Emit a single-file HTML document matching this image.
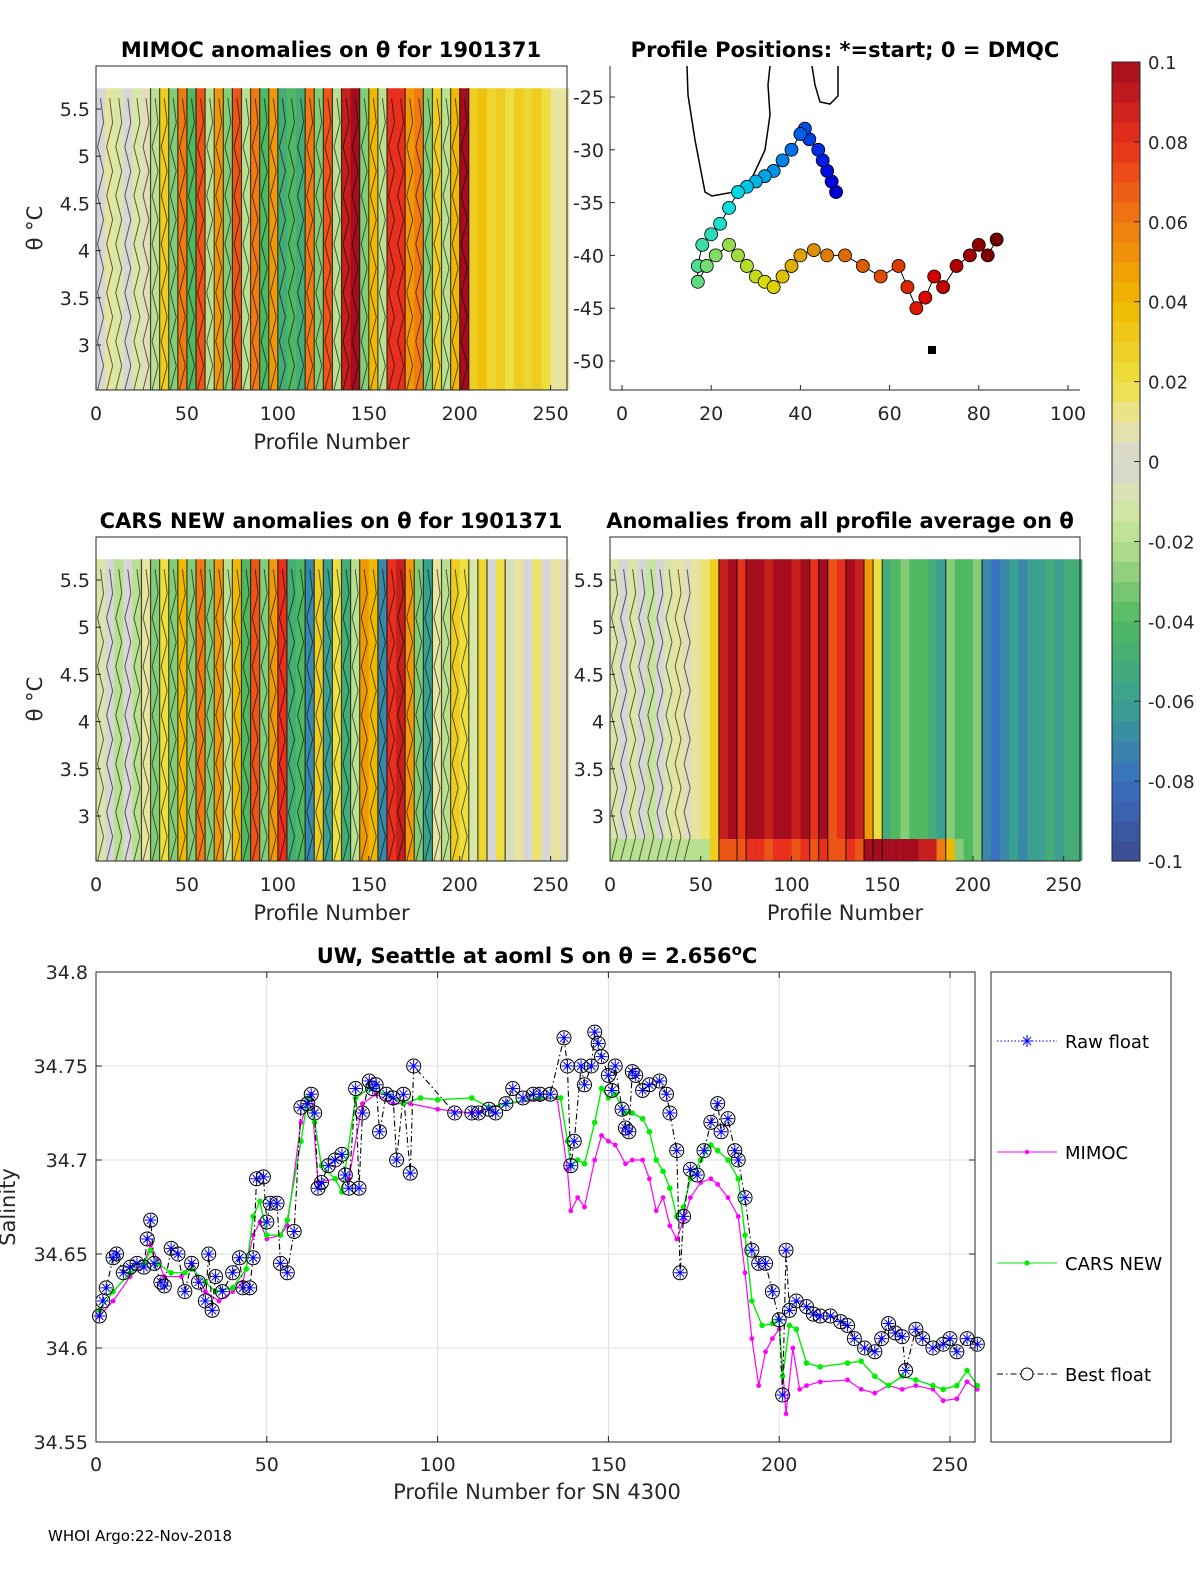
<!DOCTYPE html>
<html><head><meta charset="utf-8"><style>
html,body{margin:0;padding:0;background:#fff;}
svg{display:block;font-family:"DejaVu Sans","Liberation Sans",sans-serif;}
</style></head><body>
<svg id="fig" width="1200" height="1575" viewBox="0 0 1200 1575" xmlns="http://www.w3.org/2000/svg">
<rect width="1200" height="1575" fill="#fff"/>
<g id="layer"></g>
<text x="48" y="1541" font-size="15">WHOI Argo:22-Nov-2018</text>
</svg>
<script>
// ---------- data ----------
const mimocCols = [0,0.01,-0.01,0,-0.01,0.005,-0.02,0.03,-0.03,0.06,-0.04,0.07,-0.02,0.05,-0.03,0.07,-0.02,0.06,-0.04,0.05,-0.05,-0.04,-0.05,0.06,-0.03,0.07,-0.02,0.09,0.1,-0.03,0.04,-0.02,0.08,0.08,0.05,0.06,-0.03,0.03,-0.02,0.04,0.1,0.03,0.035,0.025,0.03,0.02,0.03,0.025,0.03,0.02,0.01,0.01];
const carsCols = [-0.01,0,-0.02,0,-0.02,0.01,-0.03,0.02,-0.03,0.04,-0.03,0.06,-0.03,0.05,-0.02,0.04,-0.04,0.07,-0.03,0.05,0.08,-0.05,-0.04,-0.07,0.03,-0.06,0.02,-0.05,-0.02,0.05,0.04,-0.07,0.08,0.09,0.05,-0.03,-0.06,0.01,-0.02,0.03,0.02,-0.01,0.025,0,0.02,-0.005,0.01,0,0.015,0,0.01,0.005];
const avgCols = [-0.01,0,-0.01,0,-0.015,0,-0.01,0.01,0.005,0.01,0.015,0.03,0.09,0.1,0.08,0.1,0.1,0.09,0.1,0.1,0.09,0.1,0.08,0.1,0.07,0.08,0.1,0.09,0.05,0.02,-0.05,-0.04,-0.03,-0.04,-0.04,-0.05,-0.06,-0.03,-0.04,-0.04,-0.03,-0.07,-0.08,-0.07,-0.06,-0.07,-0.06,-0.06,-0.05,-0.06,-0.05,-0.05];
const avgBottom = [-0.02,-0.02,-0.02,-0.02,-0.02,-0.02,-0.02,-0.02,-0.02,-0.02,-0.02,0.03,0.07,0.07,0.07,0.08,0.08,0.07,0.08,0.08,0.07,0.08,0.07,0.08,0.07,0.07,0.08,0.07,0.1,0.1,0.1,0.1,0.1,0.1,0.09,0.09,0.06,0.04,-0.03,-0.04,-0.03,-0.07,-0.08,-0.07,-0.06,-0.07,-0.06,-0.06,-0.05,-0.06,-0.05,-0.05];
const colWidth = 5;
const trackLon = [48,47,46,45,44,42,41,40,38,36,34,32,30,28,26,24,22,20,18,17,17,19,21,24,26,28,30,32,34,36,38,40,43,46,50,54,58,62,64,66,68,70,72,75,78,80,82,84];
const trackLat = [-34,-33,-32,-31,-30,-29,-28,-28.5,-30,-31,-32,-32.5,-33,-33.5,-34,-35.5,-37,-38,-39,-41,-42.5,-41,-40,-39,-40,-41,-42,-42.5,-43,-42,-41,-40,-39.5,-40,-40,-41,-42,-41,-43,-45,-44,-42,-43,-41,-40,-39,-40,-38.5];
const floatP = [1,2,3,5,6,8,10,12,14,15,16,17,19,20,22,24,26,28,30,32,33,34,35,37,40,42,43,45,46,47,49,50,51,53,54,56,58,60,62,63,64,65,66,68,70,72,73,74,76,77,78,80,81,82,83,85,87,88,90,92,93,105,110,112,115,117,120,122,125,128,130,133,137,138,139,140,142,143,145,146,147,148,150,151,152,154,155,156,157,158,160,162,165,167,168,170,171,172,174,176,178,180,182,183,185,187,188,190,192,194,196,198,200,201,202,203,205,208,210,212,215,218,220,222,225,228,230,232,234,236,237,240,242,245,248,250,252,255,258];
const floatS = [34.617,34.625,34.632,34.648,34.650,34.640,34.643,34.645,34.643,34.658,34.668,34.645,34.635,34.633,34.653,34.650,34.630,34.645,34.635,34.625,34.650,34.620,34.638,34.630,34.640,34.648,34.632,34.632,34.648,34.690,34.691,34.667,34.677,34.677,34.645,34.640,34.662,34.728,34.730,34.735,34.725,34.685,34.688,34.697,34.700,34.703,34.692,34.685,34.738,34.685,34.725,34.742,34.738,34.740,34.715,34.735,34.733,34.700,34.735,34.693,34.750,34.725,34.725,34.725,34.727,34.725,34.730,34.738,34.733,34.735,34.735,34.735,34.765,34.750,34.697,34.710,34.750,34.740,34.750,34.768,34.762,34.755,34.745,34.737,34.750,34.727,34.717,34.715,34.747,34.745,34.737,34.740,34.742,34.735,34.725,34.705,34.640,34.670,34.695,34.692,34.705,34.720,34.730,34.715,34.722,34.705,34.700,34.680,34.652,34.645,34.645,34.630,34.615,34.575,34.652,34.620,34.625,34.622,34.618,34.617,34.617,34.614,34.612,34.605,34.600,34.598,34.605,34.613,34.608,34.606,34.588,34.610,34.605,34.600,34.602,34.605,34.598,34.605,34.602];
const mimocP = [1,5,10,14,16,18,20,25,28,32,36,40,43,46,48,50,54,56,60,63,65,70,74,78,82,87,92,100,110,120,130,135,138,139,141,143,146,148,150,152,155,157,160,162,164,166,168,170,172,174,177,180,182,185,188,190,192,194,196,198,200,201,202,204,206,208,212,220,224,228,232,236,240,245,248,252,255,258];
const mimocS = [34.617,34.625,34.638,34.645,34.655,34.647,34.638,34.638,34.645,34.630,34.625,34.630,34.635,34.660,34.667,34.658,34.660,34.665,34.720,34.735,34.688,34.690,34.690,34.730,34.735,34.730,34.730,34.727,34.725,34.730,34.732,34.733,34.695,34.673,34.680,34.675,34.700,34.713,34.710,34.708,34.698,34.700,34.700,34.690,34.673,34.680,34.665,34.658,34.668,34.680,34.688,34.690,34.687,34.680,34.670,34.640,34.605,34.580,34.598,34.605,34.610,34.590,34.565,34.600,34.578,34.580,34.582,34.583,34.578,34.576,34.580,34.578,34.580,34.578,34.572,34.573,34.582,34.578];
const carsP = [1,5,10,14,16,18,22,26,28,32,35,40,44,46,48,50,54,56,60,62,64,66,70,72,76,80,85,90,95,100,110,115,120,130,136,138,139,141,143,146,148,150,152,155,157,160,162,164,166,168,170,172,174,177,180,182,185,188,190,192,195,198,200,201,203,205,208,212,220,224,228,232,236,240,245,248,252,255,258];
const carsS = [34.620,34.630,34.640,34.645,34.652,34.645,34.640,34.640,34.642,34.635,34.630,34.632,34.642,34.670,34.678,34.660,34.660,34.668,34.710,34.733,34.720,34.697,34.690,34.683,34.733,34.738,34.735,34.730,34.733,34.732,34.733,34.728,34.730,34.733,34.733,34.710,34.697,34.700,34.698,34.720,34.738,34.733,34.735,34.725,34.725,34.722,34.715,34.700,34.694,34.685,34.670,34.675,34.690,34.700,34.708,34.705,34.700,34.690,34.660,34.625,34.612,34.613,34.615,34.585,34.612,34.610,34.592,34.590,34.592,34.593,34.585,34.580,34.585,34.583,34.580,34.578,34.580,34.588,34.580];
const cbTicks = [0.1,0.08,0.06,0.04,0.02,0,-0.02,-0.04,-0.06,-0.08,-0.1];
const cbLabels = ["0.1","0.08","0.06","0.04","0.02","0","-0.02","-0.04","-0.06","-0.08","-0.1"];
const thetaTicks = [5.5,5,4.5,4,3.5,3];
const thetaLabels = ["5.5","5","4.5","4","3.5","3"];
const profTicks = [0,50,100,150,200,250];
const latTicks = [-25,-30,-35,-40,-45,-50];
const lonTicks = [0,20,40,60,80,100];
const sTicks = [34.55,34.6,34.65,34.7,34.75,34.8];
const sLabels = ["34.55","34.6","34.65","34.7","34.75","34.8"];

// ---------- helpers ----------
const NS="http://www.w3.org/2000/svg";
const layer=document.getElementById('layer');
function mk(tag,attrs,parent,txt){const e=document.createElementNS(NS,tag);for(const k in attrs)e.setAttribute(k,attrs[k]);if(txt!==undefined)e.textContent=txt;(parent||layer).appendChild(e);return e;}
const stops=[[-0.1,[58,74,144]],[-0.08,[58,112,192]],[-0.06,[58,160,144]],[-0.04,[80,184,96]],[-0.02,[184,224,144]],[-0.01,[216,230,168]],[0,[214,214,214]],[0.01,[232,228,160]],[0.02,[238,223,64]],[0.04,[240,184,0]],[0.06,[240,122,16]],[0.08,[232,48,28]],[0.1,[165,13,30]]];
function cmap(v){v=Math.max(-0.1,Math.min(0.1,v));for(let i=1;i<stops.length;i++){if(v<=stops[i][0]){const a=stops[i-1],b=stops[i];const t=(v-a[0])/(b[0]-a[0]);const c=a[1].map((x,j)=>Math.round(x+(b[1][j]-x)*t));return `rgb(${c})`;}}return 'rgb(165,13,30)';}
function jet(t){const r=Math.max(0,Math.min(1,1.5-Math.abs(4*t-3))),g=Math.max(0,Math.min(1,1.5-Math.abs(4*t-2))),b=Math.max(0,Math.min(1,1.5-Math.abs(4*t-1)));return `rgb(${Math.round(r*220)},${Math.round(g*220)},${Math.round(b*230)})`;}
function lin(d0,d1,r0,r1){return v=>r0+(v-d0)/(d1-d0)*(r1-r0);}

// ---------- heatmap panel ----------
function heatPanel(name,box,cols,title,titleX,showYLabel,texture,bottomCols){
  const g=mk('g',{});
  
  
  const x=lin(0,259,box.x0,box.x1);
  const y=lin(5.5,3,box.y0+43,box.y0+279);
  const top=y(5.72);
  cols.forEach((v,i)=>{
    const r=mk('rect',{x:x(i*colWidth),y:top,width:x((i+1)*colWidth)-x(i*colWidth)+0.5,height:box.y1-top,fill:cmap(v)},g);
    
    
    if(bottomCols){
      const b=mk('rect',{x:x(i*colWidth),y:box.y1-22,width:x((i+1)*colWidth)-x(i*colWidth)+0.5,height:22,fill:cmap(bottomCols[i])},g);
      
      
    }
    if(i>0&&Math.abs(v-cols[i-1])>0.02){
      const l=mk('line',{x1:x(i*colWidth),x2:x(i*colWidth),y1:top,y2:box.y1,stroke:'#000','stroke-width':1.2,'stroke-opacity':0.7},g);
      
      
    }
    if(texture&&i*colWidth<texture){
      const cx=(x(i*colWidth)+x((i+1)*colWidth))/2;
      let d=`M${cx},${top+10}`;
      for(let k=1;k<=12;k++){d+=` L${cx+(k%2?3:-3)},${top+10+k*(box.y1-top-10)/12}`;}
      const w=mk('path',{d:d,fill:'none',stroke:'#000','stroke-width':1,'stroke-opacity':0.6},g);
      
      
    }
  });
  const fr=mk('rect',{x:box.x0,y:box.y0,width:box.x1-box.x0,height:box.y1-box.y0,fill:'none',stroke:'#262626','stroke-width':1},g);
  
  
  thetaTicks.forEach((t,i)=>{
    const ty=y(t);
    mk('line',{x1:box.x0,x2:box.x0+5,y1:ty,y2:ty,stroke:'#262626'},g);
    const lbl=mk('text',{x:box.x0-6,y:ty+7,'font-size':19,'text-anchor':'end',fill:'#262626'},g,thetaLabels[i]);
    
    
  });
  profTicks.forEach(t=>{
    const tx=x(t);
    mk('line',{x1:tx,x2:tx,y1:box.y1,y2:box.y1-5,stroke:'#262626'},g);
    const lbl=mk('text',{x:tx,y:box.y1+30,'font-size':19,'text-anchor':'middle',fill:'#262626'},g,String(t));
    
    
  });
  const tt=mk('text',{x:titleX,y:box.y0-9,'font-size':21,'font-weight':'bold','text-anchor':'middle',fill:'#000'},g,title);
  
  
  const xl=mk('text',{x:(box.x0+box.x1)/2,y:box.y1+59,'font-size':21,'text-anchor':'middle',fill:'#262626'},g,'Profile Number');
  
  
  if(showYLabel){const yl=mk('text',{x:0,y:0,'font-size':21,'text-anchor':'middle',fill:'#262626',transform:`translate(42,${(box.y0+box.y1)/2}) rotate(-90)`},g,'\u03B8 \u00B0C');
    
    }
}
heatPanel('mimoc-anomaly-panel',{x0:96,x1:567,y0:66,y1:390},mimocCols,'MIMOC anomalies on \u03B8  for 1901371',331,true,205,null);
heatPanel('cars-anomaly-panel',{x0:96,x1:567,y0:537,y1:861},carsCols,'CARS NEW anomalies on \u03B8 for 1901371',331,true,205,null);
heatPanel('average-anomaly-panel',{x0:610,x1:1080,y0:537,y1:861},avgCols,'Anomalies from all profile average on \u03B8',840,false,45,avgBottom);

// ---------- map panel ----------
(function(){
  const g=mk('g',{});
  
  
  const x=lin(0,100,622,1068), y=lin(-25,-50,97,361);
  const c1=mk('polyline',{points:'687,66 688,95 695,140 705,192 712,196 745,190 752,178 765,150 770,115 768,85 770,66',fill:'none',stroke:'#000','stroke-width':1.5},g);
  
  
  const c2=mk('polyline',{points:'812,66 815,85 820,102 830,104 838,96 838,66',fill:'none',stroke:'#000','stroke-width':1.5},g);
  
  
  mk('rect',{x:928,y:346,width:8,height:8,fill:'#000'},g);
  let pts=trackLon.map((lo,i)=>x(lo)+','+y(trackLat[i])).join(' ');
  const tr=mk('polyline',{points:pts,fill:'none',stroke:'#000','stroke-width':1},g);
  
  
  trackLon.forEach((lo,i)=>{
    const c=mk('circle',{cx:x(lo),cy:y(trackLat[i]),r:6.5,fill:jet(0.1+0.9*i/(trackLon.length-1)),stroke:'#000','stroke-width':0.8},g);
    
    
  });
  const fr=mk('path',{d:'M610,390 L1080,390 M610,66 L610,390',stroke:'#262626',fill:'none'},g);
  
  
  latTicks.forEach(t=>{
    mk('line',{x1:610,x2:615,y1:y(t),y2:y(t),stroke:'#262626'},g);
    const l=mk('text',{x:604,y:y(t)+7,'font-size':19,'text-anchor':'end',fill:'#262626'},g,String(t));
    
    
  });
  lonTicks.forEach(t=>{
    mk('line',{x1:x(t),x2:x(t),y1:390,y2:385,stroke:'#262626'},g);
    const l=mk('text',{x:x(t),y:420,'font-size':19,'text-anchor':'middle',fill:'#262626'},g,String(t));
    
    
  });
  const tt=mk('text',{x:845,y:57,'font-size':21,'font-weight':'bold','text-anchor':'middle'},g,'Profile Positions: *=start; 0 = DMQC');
  
  
})();

// ---------- colorbar ----------
(function(){
  const g=mk('g',{});
  
  
  const y=lin(0.1,-0.1,62,861);
  for(let v=-0.1;v<0.1;v+=0.005){
    mk('rect',{x:1112,y:y(v+0.005),width:28,height:y(v)-y(v+0.005)+0.6,fill:cmap(v+0.0025)},g);
  }
  mk('rect',{x:1112,y:62,width:28,height:799,fill:'none',stroke:'#262626'},g);
  cbTicks.forEach((t,i)=>{
    mk('line',{x1:1134,x2:1140,y1:y(t),y2:y(t),stroke:'#262626'},g);
    const l=mk('text',{x:1148,y:y(t)+7,'font-size':18,fill:'#262626'},g,cbLabels[i]);
    
    
  });
})();

// ---------- salinity chart ----------
(function(){
  const g=mk('g',{});
  
  
  const X0=96,X1=975,Y0=972,Y1=1442;
  const x=lin(0,250,96,950), y=lin(34.8,34.55,Y0,Y1);
  mk('rect',{x:X0,y:Y0,width:X1-X0,height:Y1-Y0,fill:'#fff'},g);
  profTicks.forEach(t=>{mk('line',{x1:x(t),x2:x(t),y1:Y0,y2:Y1,stroke:'#dedede'},g);});
  sTicks.forEach(t=>{mk('line',{x1:X0,x2:X1,y1:y(t),y2:y(t),stroke:'#dedede'},g);});
  const line=(P,S,attrs,name)=>{const l=mk('polyline',Object.assign({points:P.map((p,i)=>x(p)+','+y(S[i])).join(' '),fill:'none'},attrs),g);
    
    };
  line(mimocP,mimocS,{stroke:'#ff00ff','stroke-width':1.2},'mimoc-line');
  mimocP.forEach((p,i)=>{const c=mk('circle',{cx:x(p),cy:y(mimocS[i]),r:2.4,fill:'#ff00ff'},g);
    
    });
  line(carsP,carsS,{stroke:'#00ee00','stroke-width':1.4},'cars-line');
  carsP.forEach((p,i)=>{const c=mk('circle',{cx:x(p),cy:y(carsS[i]),r:2.8,fill:'#00ee00'},g);
    
    });
  line(floatP,floatS,{stroke:'#000','stroke-width':1.1,'stroke-dasharray':'6 3 1.5 3'},'best-float-line');
  floatP.forEach((p,i)=>{
    const cx=x(p),cy=y(floatS[i]);
    const c=mk('circle',{cx:cx,cy:cy,r:7,fill:'none',stroke:'#000','stroke-width':1},g);
    
    
    const a=mk('path',{d:`M${cx-6},${cy}h12M${cx},${cy-6}v12M${cx-4},${cy-4}l8,8M${cx-4},${cy+4}l8,-8`,stroke:'#0000ff','stroke-width':1},g);
    
    
  });
  mk('rect',{x:X0,y:Y0,width:X1-X0,height:Y1-Y0,fill:'none',stroke:'#262626'},g);
  profTicks.forEach(t=>{
    mk('line',{x1:x(t),x2:x(t),y1:Y1,y2:Y1-6,stroke:'#262626'},g);
    mk('line',{x1:x(t),x2:x(t),y1:Y0,y2:Y0+6,stroke:'#262626'},g);
    const l=mk('text',{x:x(t),y:Y1+29,'font-size':19,'text-anchor':'middle',fill:'#262626'},g,String(t));
    
    
  });
  sTicks.forEach((t,i)=>{
    mk('line',{x1:X0,x2:X0+6,y1:y(t),y2:y(t),stroke:'#262626'},g);
    mk('line',{x1:X1,x2:X1-6,y1:y(t),y2:y(t),stroke:'#262626'},g);
    const l=mk('text',{x:X0-8,y:y(t)+7,'font-size':19,'text-anchor':'end',fill:'#262626'},g,sLabels[i]);
    
    
  });
  const xl=mk('text',{x:537,y:1499,'font-size':21,'text-anchor':'middle',fill:'#262626'},g,'Profile Number for SN 4300');
  
  
  const yl=mk('text',{x:0,y:0,'font-size':21,'text-anchor':'middle',fill:'#262626',transform:'translate(15,1207) rotate(-90)'},g,'Salinity');
  
  
  const tt=mk('text',{x:537,y:963,'font-size':21,'font-weight':'bold','text-anchor':'middle'},g);
  
  
  tt.innerHTML='UW, Seattle at aoml S on \u03B8 = 2.656<tspan dy="-8" font-size="15">o</tspan><tspan dy="8">C</tspan>';
  // legend
  const lg=mk('g',{},g);
  
  
  mk('rect',{x:991,y:972,width:180,height:470,fill:'#fff',stroke:'#262626'},lg);
  const ent=[[1041,'Raw float','raw'],[1152,'MIMOC','mimoc'],[1263,'CARS NEW','cars'],[1374,'Best float','best']];
  ent.forEach(e=>{
    const eg=mk('g',{},lg);
    
    
    const yy=e[0];
    if(e[2]==='raw'){mk('line',{x1:997,x2:1057,y1:yy,y2:yy,stroke:'#0000ff','stroke-dasharray':'1.5 2'},eg);
      mk('path',{d:`M1021,${yy}h12M1027,${yy-6}v12M1023,${yy-4}l8,8M1023,${yy+4}l8,-8`,stroke:'#0000ff'},eg);}
    if(e[2]==='mimoc'){mk('line',{x1:997,x2:1057,y1:yy,y2:yy,stroke:'#ff00ff'},eg);mk('circle',{cx:1027,cy:yy,r:2.2,fill:'#ff00ff'},eg);}
    if(e[2]==='cars'){mk('line',{x1:997,x2:1057,y1:yy,y2:yy,stroke:'#00ee00'},eg);mk('circle',{cx:1027,cy:yy,r:2.6,fill:'#00ee00'},eg);}
    if(e[2]==='best'){mk('line',{x1:997,x2:1057,y1:yy,y2:yy,stroke:'#000','stroke-dasharray':'6 3 1.5 3'},eg);mk('circle',{cx:1027,cy:yy,r:6,fill:'#fff',stroke:'#000'},eg);}
    mk('text',{x:1065,y:yy+7,'font-size':18,fill:'#000'},eg,e[1]);
  });
})();
</script>
</body></html>
